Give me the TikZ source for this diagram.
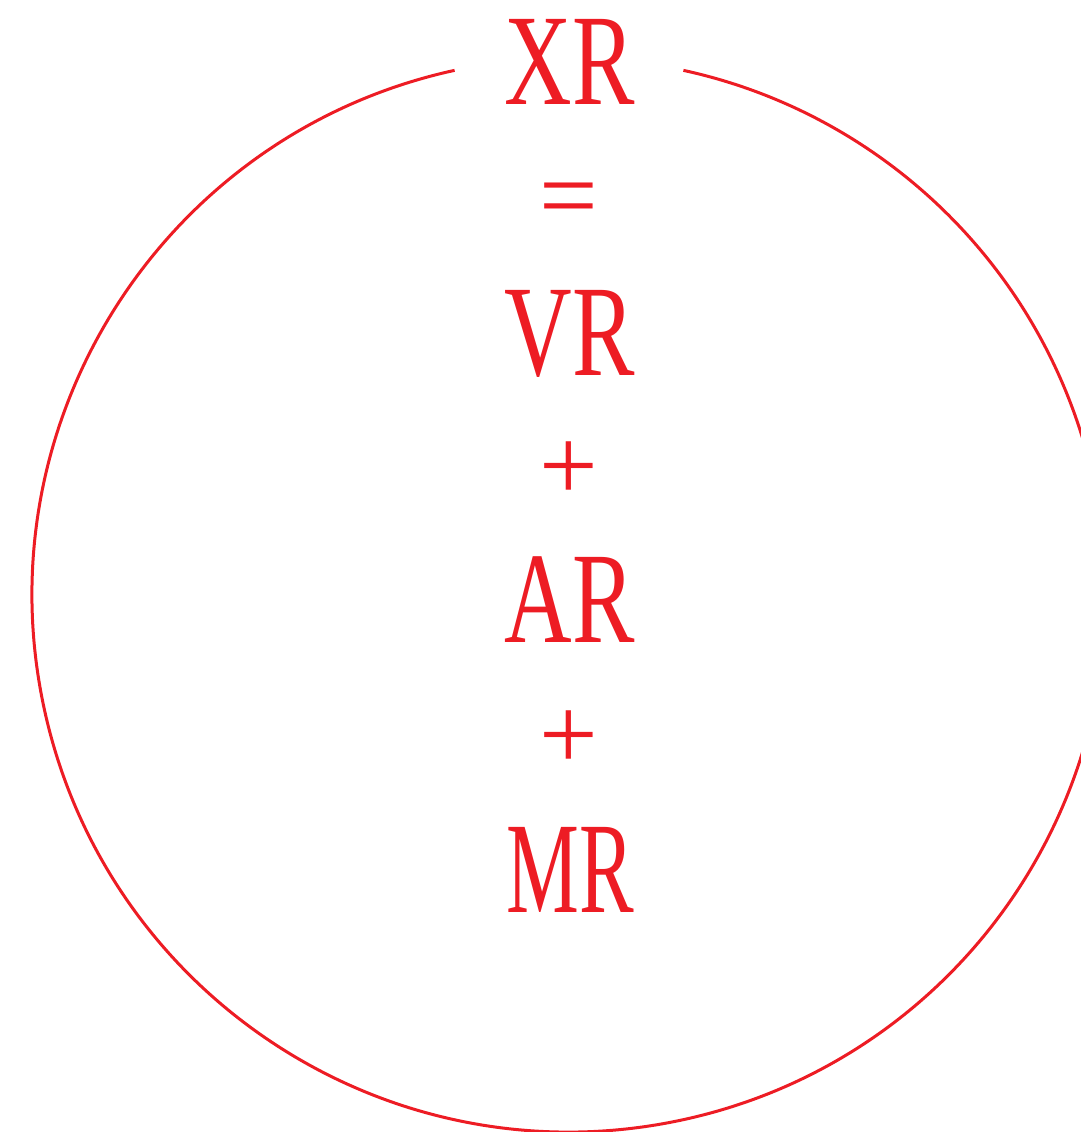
\documentclass[tikz,border=0pt]{standalone}
\usepackage{fontspec}
\setmainfont{Liberation Serif}
\definecolor{xred}{HTML}{ED1C24}
\begin{document}
\begin{tikzpicture}[x=1pt,y=-1pt,
  word/.style={text=xred,inner sep=0pt,anchor=base,xscale=0.72,font=\fontsize{130}{130}\selectfont},
  op/.style={text=xred,inner sep=0pt,anchor=center,font=\fontsize{104}{104}\selectfont}]
\useasboundingbox (0,0) rectangle (1081,1132);
\clip (0,0) rectangle (1081,1132);
\coordinate (c) at (569,595);
\draw[xred,line width=3pt] ([shift={(-102.3:537)}]c) arc[start angle=-102.3,end angle=-437.7,radius=537];
\node[word] (xr) at (570,104) {XR};
\node[op] (eq) at (569,207) {=};
\node[word] (vr) at (570,375) {VR};
\node[op] (p1) at (569,471) {+};
\node[word] (ar) at (570,642) {AR};
\node[op] (p2) at (569,740) {+};
\node[word,xscale=0.875] (mr) at (570,912) {MR};
\end{tikzpicture}
\end{document}
